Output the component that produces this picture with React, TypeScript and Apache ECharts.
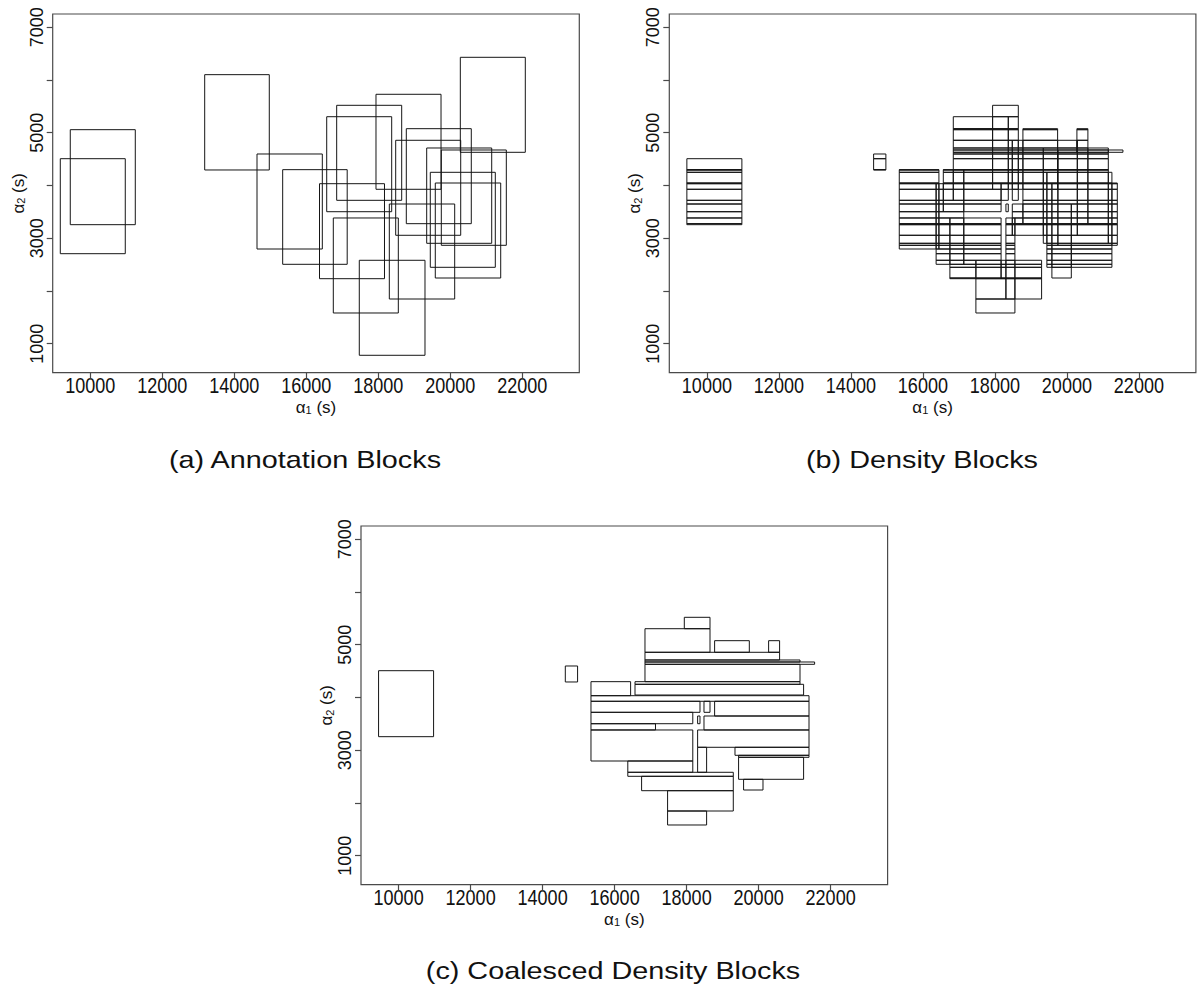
import { useEffect, useRef } from 'react';
import * as echarts from 'echarts';

// ---- axes -------------------------------------------------------------
const ALPHA1_MIN = 8956;
const ALPHA1_MAX = 23583;
const ALPHA2_MIN = 450;
const ALPHA2_MAX = 7250;
const ALPHA1_TICKS = [10000, 12000, 14000, 16000, 18000, 20000, 22000];
const ALPHA2_TICKS = [1000, 2000, 3000, 4000, 5000, 6000, 7000];
const ALPHA2_LABELS = [1000, 3000, 5000, 7000];

// ---- (a) annotation blocks: [alpha1 start, alpha1 end, alpha2 start, alpha2 end]
const ANNOTATION_BLOCKS: number[][] = [
  [9167, 10972, 2706, 4507],
  [9444, 11250, 3256, 5057],
  [13178, 14972, 4293, 6100],
  [14631, 16445, 2795, 4596],
  [15344, 17136, 2505, 4299],
  [16367, 18172, 2232, 4033],
  [16567, 18372, 3502, 5303],
  [16844, 18650, 3718, 5519],
  [17936, 19742, 3927, 5728],
  [20278, 22083, 4628, 6429],
  [18778, 20583, 3275, 5076],
  [18483, 20289, 3055, 4856],
  [19344, 21150, 2903, 4710],
  [19750, 21556, 2865, 4672],
  [19444, 21250, 2448, 4249],
  [19583, 21400, 2245, 4046],
  [18306, 20122, 1847, 3648],
  [16750, 18556, 1582, 3383],
  [17472, 19297, 780, 2581],
];

// ---- (b) density blocks, strip by strip: [alpha2 low, alpha2 high, runs]
// each run lists the alpha1 breakpoints of adjacent blocks inside the strip
const DENSITY_STRIPS: [number, number, number[][]][] = [
  [1582, 1847, [[17472, 18556]]],
  [1847, 2232, [[17472, 18306, 18556, 19297]]],
  [2232, 2245, [[16750, 17472, 18172, 18306, 18556, 19297]]],
  [2245, 2448, [[16750, 17472, 18172, 18306, 18556, 19297], [19583, 20122]]],
  [2448, 2505, [[16750, 17472, 18172, 18306, 18556, 19297], [19444, 19583, 20122, 21250]]],
  [2505, 2581, [[16367, 16750, 17136, 17472, 18172, 18306, 18556, 19297], [19444, 19583, 20122, 21250]]],
  [2581, 2706, [[16367, 16750, 17136, 18172], [18306, 18556], [19444, 19583, 20122, 21250]]],
  [2706, 2795, [[16367, 16750, 17136, 18172], [18306, 18556], [19444, 19583, 20122, 21250]]],
  [2795, 2865, [[15344, 16367, 16445, 16750, 17136, 18172], [18306, 18556], [19444, 19583, 20122, 21250]]],
  [2865, 2903, [[15344, 16367, 16445, 16750, 17136, 18172], [18306, 18556], [19444, 19583, 19750, 20122, 21250, 21400]]],
  [2903, 3055, [[15344, 16367, 16445, 16750, 17136, 18172], [18306, 18556], [19344, 19444, 19583, 19750, 20122, 21150, 21250, 21400]]],
  [3055, 3256, [[15344, 16367, 16445, 16750, 17136, 18172], [18306, 18483, 18556, 19344, 19444, 19583, 19750, 20122, 20289, 21150, 21250, 21400]]],
  [3256, 3275, [[9444, 10972], [15344, 16367, 16445, 16750, 17136, 18172], [18306, 18483, 18556, 19344, 19444, 19583, 19750, 20122, 20289, 21150, 21250, 21400]]],
  [3275, 3383, [[9444, 10972], [15344, 16367, 16445, 16750, 17136, 18172], [18306, 18483, 18556, 18778, 19344, 19444, 19583, 19750, 20122, 20289, 20583, 21150, 21250, 21400]]],
  [3383, 3502, [[9444, 10972], [15344, 16367, 16445, 17136], [18483, 18778, 19344, 19444, 19583, 19750, 20122, 20289, 20583, 21150, 21250, 21400]]],
  [3502, 3648, [[9444, 10972], [15344, 16367, 16445, 16567, 17136, 18172], [18306, 18372], [18483, 18778, 19344, 19444, 19583, 19750, 20122, 20289, 20583, 21150, 21250, 21400]]],
  [3648, 3718, [[9444, 10972], [15344, 16367, 16445, 16567, 17136, 18172], [18778, 19344, 19444, 19583, 19750, 20289, 20583, 21150, 21250, 21400]]],
  [3718, 3927, [[9444, 10972], [15344, 16367, 16445, 16567, 16844, 17136, 18172, 18372], [18483, 18650], [18778, 19344, 19444, 19583, 19750, 20289, 20583, 21150, 21250, 21400]]],
  [3927, 4033, [[9444, 10972], [15344, 16367, 16445, 16567, 16844, 17136, 17936, 18172, 18372, 18483, 18650, 18778, 19344, 19444, 19583, 19742, 19750, 20289, 20583, 21150, 21250, 21400]]],
  [4033, 4046, [[9444, 10972], [15344, 16445], [16567, 16844, 17136, 17936, 18372, 18483, 18650, 18778, 19344, 19444, 19583, 19742, 19750, 20289, 20583, 21150, 21250, 21400]]],
  [4046, 4249, [[9444, 10972], [15344, 16445], [16567, 16844, 17136, 17936, 18372, 18483, 18650, 18778, 19344, 19444, 19742, 19750, 20289, 20583, 21150, 21250]]],
  [4249, 4293, [[9444, 10972], [15344, 16445], [16567, 16844, 17136, 17936, 18372, 18483, 18650, 18778, 19344, 19742, 19750, 20289, 20583, 21150]]],
  [4293, 4299, [[9444, 10972], [14631, 14972], [15344, 16445], [16567, 16844, 17136, 17936, 18372, 18483, 18650, 18778, 19344, 19742, 19750, 20289, 20583, 21150]]],
  [4299, 4507, [[9444, 10972], [14631, 14972], [16844, 17936, 18372, 18483, 18650, 18778, 19344, 19742, 19750, 20289, 20583, 21150]]],
  [4507, 4596, [[14631, 14972], [16844, 17936, 18372, 18483, 18650, 18778, 19344, 19742, 19750, 20289, 20583, 21150]]],
  [4596, 4628, [[16844, 17936, 18372, 18483, 18650, 18778, 19344, 19742, 19750, 20289, 20583, 21150]]],
  [4628, 4672, [[16844, 17936, 18372, 18483, 18650, 18778, 19344, 19742, 19750, 20278, 20289, 20583, 21150, 21556]]],
  [4672, 4710, [[16844, 17936, 18372, 18483, 18650, 18778, 19344, 19742, 20278, 20289, 20583, 21150]]],
  [4710, 4856, [[16844, 17936, 18372, 18483, 18650, 18778, 19742, 20278, 20289, 20583]]],
  [4856, 5057, [[16844, 17936, 18372, 18650], [18778, 19742], [20278, 20583]]],
  [5057, 5076, [[16844, 17936, 18372, 18650], [18778, 19742], [20278, 20583]]],
  [5076, 5303, [[16844, 17936, 18372, 18650]]],
  [5303, 5519, [[17936, 18650]]],
];

// ---- (c) coalesced density blocks: [alpha1 start, alpha1 end, alpha2 start, alpha2 end]
const COALESCED_BLOCKS: number[][] = [
  [9444, 10972, 3256, 4507],
  [14631, 14972, 4293, 4596],
  [17936, 18650, 5303, 5519],
  [16844, 18650, 4856, 5303],
  [18778, 19742, 4856, 5076],
  [20278, 20583, 4856, 5076],
  [16844, 20583, 4710, 4856],
  [16844, 21150, 4672, 4710],
  [16844, 21556, 4628, 4672],
  [16844, 21150, 4299, 4628],
  [16567, 21150, 4249, 4299],
  [16567, 21250, 4046, 4249],
  [15344, 16445, 4033, 4299],
  [15344, 21400, 3927, 4033],
  [15344, 18372, 3718, 3927],
  [18483, 18650, 3718, 3927],
  [18778, 21400, 3648, 3927],
  [15344, 18172, 3502, 3718],
  [18306, 18372, 3502, 3648],
  [18483, 21400, 3383, 3648],
  [15344, 17136, 3383, 3502],
  [15344, 18172, 2795, 3383],
  [18306, 21400, 3055, 3383],
  [19344, 21400, 2903, 3055],
  [19444, 21400, 2865, 2903],
  [19444, 21250, 2448, 2865],
  [19583, 20122, 2245, 2448],
  [16367, 18172, 2581, 2795],
  [18306, 18556, 2581, 3055],
  [16367, 19297, 2505, 2581],
  [16750, 19297, 2232, 2505],
  [17472, 19297, 1847, 2232],
  [17472, 18556, 1582, 1847],
];

const CAPTIONS = ['(a) Annotation Blocks', '(b) Density Blocks', '(c) Coalesced Density Blocks'];

// ---- layout & style ---------------------------------------------------
const FONT = '"Liberation Sans", Arial, Helvetica, sans-serif';
const TEXT = '#111111';
const FRAME = '#4a4a4a';
const INK = '#151515';
const PLOT_W = 526.6;
const PLOT_H = 358.7;
const LAYOUT = [
  { left: 52.7, top: 14, capX: 305, capY: 460 },
  { left: 669.3, top: 14, capX: 922, capY: 460 },
  { left: 361, top: 526, capX: 613, capY: 971 },
];

function stripsToBlocks(strips: [number, number, number[][]][]) {
  const out: number[][] = [];
  for (const [lo, hi, runs] of strips) {
    for (const run of runs) {
      for (let i = 0; i < run.length - 1; i++) out.push([run[i], run[i + 1], lo, hi]);
    }
  }
  return out;
}

const plain = (v: number) => String(v);
const axisTitle = (sub: string) => `{g|α}{s|${sub}}{g| (s)}`;
const titleRich = {
  g: { fontSize: 17, fontFamily: FONT, color: TEXT, verticalAlign: 'bottom', lineHeight: 20 },
  s: { fontSize: 11, fontFamily: FONT, color: TEXT, verticalAlign: 'bottom', lineHeight: 8 },
};

function rectSeries(index: number, blocks: number[][]) {
  return {
    type: 'custom',
    xAxisIndex: index,
    yAxisIndex: index,
    silent: true,
    dimensions: ['a1Start', 'a1End', 'a2Start', 'a2End'],
    encode: { x: [0, 1], y: [2, 3] },
    data: blocks,
    renderItem: (_params: any, api: any) => {
      const tl = api.coord([api.value(0), api.value(3)]);
      const br = api.coord([api.value(1), api.value(2)]);
      return {
        type: 'rect',
        shape: { x: tl[0], y: tl[1], width: br[0] - tl[0], height: br[1] - tl[1] },
        style: { fill: 'none', stroke: INK, lineWidth: 1 },
      };
    },
  };
}

export default function App() {
  const ref = useRef<HTMLDivElement>(null);

  useEffect(() => {
    if (!ref.current) return;
    const chart = echarts.init(ref.current, null, { renderer: 'svg' });

    const grids = LAYOUT.map((p) => ({
      left: p.left,
      top: p.top,
      width: PLOT_W,
      height: PLOT_H,
      show: true,
      borderColor: FRAME,
      borderWidth: 1.2,
      backgroundColor: 'transparent',
    }));

    // alpha1 tick labels are set in a condensed face below, as graphic texts
    const xAxes = LAYOUT.map((_p, i) => ({
      type: 'value',
      gridIndex: i,
      min: ALPHA1_MIN,
      max: ALPHA1_MAX,
      axisLine: { show: false },
      axisTick: { show: true, inside: false, length: 6, customValues: ALPHA1_TICKS, lineStyle: { color: FRAME, width: 1.2 } },
      axisLabel: { show: false },
      splitLine: { show: false },
      name: axisTitle('1'),
      nameLocation: 'middle',
      nameGap: 23,
      nameTextStyle: { rich: titleRich },
    }));

    const yAxes = LAYOUT.map((_p, i) => ({
      type: 'value',
      gridIndex: i,
      min: ALPHA2_MIN,
      max: ALPHA2_MAX,
      axisLine: { show: false },
      axisTick: { show: true, inside: false, length: 6, customValues: ALPHA2_TICKS, lineStyle: { color: FRAME, width: 1.2 } },
      axisLabel: { customValues: ALPHA2_LABELS, formatter: plain, fontSize: 18, fontFamily: FONT, color: TEXT, margin: 7, rotate: 90 },
      splitLine: { show: false },
      name: axisTitle('2'),
      nameLocation: 'middle',
      nameGap: 24,
      nameRotate: 90,
      nameTextStyle: { rich: titleRich },
    }));

    const captions = LAYOUT.map((p, i) => ({
      type: 'text',
      x: p.capX,
      y: p.capY,
      scaleX: 1.2,
      silent: true,
      style: {
        text: CAPTIONS[i],
        fontSize: 24,
        fontFamily: FONT,
        fill: TEXT,
        textAlign: 'center',
        textVerticalAlign: 'middle',
      },
    }));

    chart.setOption({
      animation: false,
      backgroundColor: '#ffffff',
      grid: grids,
      xAxis: xAxes,
      yAxis: yAxes,
      graphic: captions,
      series: [
        rectSeries(0, ANNOTATION_BLOCKS),
        rectSeries(1, stripsToBlocks(DENSITY_STRIPS)),
        rectSeries(2, COALESCED_BLOCKS),
      ],
    });

    // alpha1 tick labels, placed through each panel's own x axis
    const tickLabels: any[] = [];
    LAYOUT.forEach((p, i) => {
      const y = p.top + PLOT_H + 12.6;
      ALPHA1_TICKS.forEach((v) => {
        const x = chart.convertToPixel({ xAxisIndex: i }, v) as number;
        tickLabels.push({
          type: 'text',
          x,
          y,
          scaleX: 0.82,
          silent: true,
          style: {
            text: plain(v),
            fontSize: 22,
            fontFamily: FONT,
            fill: TEXT,
            textAlign: 'center',
            textVerticalAlign: 'middle',
          },
        });
      });
    });
    chart.setOption({ graphic: [...captions, ...tickLabels] });

    return () => chart.dispose();
  }, []);

  return (
    <div
      ref={ref}
      style={{ position: 'absolute', left: 0, top: 0, width: 1198, height: 992 }}
    />
  );
}
